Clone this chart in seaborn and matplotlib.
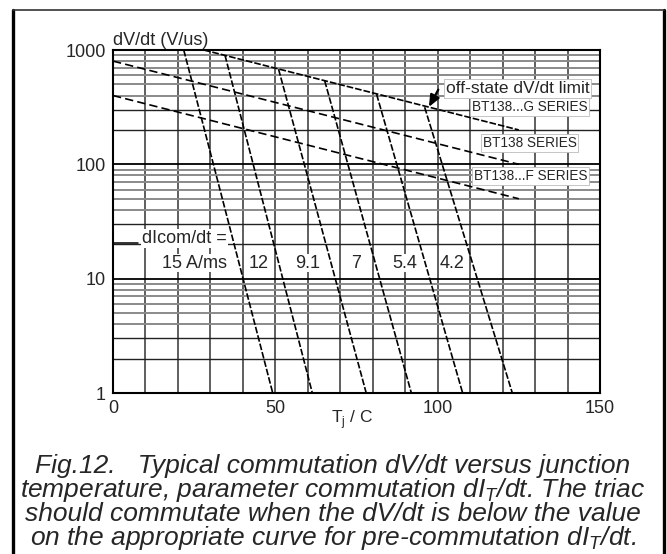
import numpy as np
import pandas as pd
import matplotlib
matplotlib.use('Agg')
import matplotlib.pyplot as plt
import seaborn as sns
from matplotlib.lines import Line2D

# dIcom/dt curves: (Tj, dV/dt) at the top and bottom of each line
dicom_labels = ['15 A/ms', '12', '9.1', '7', '5.4', '4.2']
dicom_t_top = [21.8, 34.5, 51.0, 65.2, 81.2, 96.0]
dicom_v_top = [1000, 900, 680, 540, 410, 316]
dicom_t_bot = [49.2, 61.4, 78.0, 91.9, 107.7, 123.0]
dicom_v_bot = [1, 1, 1, 1, 1, 1]
dicom_label_t = [25.2, 45.0, 59.8, 75.0, 89.8, 104.5]
dicom_label_v = 13.7

# off-state dV/dt limits
series_names = ['BT138...G SERIES', 'BT138 SERIES', 'BT138...F SERIES']
series_t_left = [28, 0, 0]
series_v_left = [1000, 800, 400]
series_t_right = [125, 125, 125]
series_v_right = [200, 100, 50]
series_label_t = [128.3, 128.3, 128.6]
series_label_v = [315, 153, 78.5]

caption = ['Fig.12.   Typical commutation dV/dt versus junction',
           'temperature, parameter commutation dI$_\\mathregular{T}$/dt. The triac',
           'should commutate when the dV/dt is below the value',
           'on the appropriate curve for pre-commutation dI$_\\mathregular{T}$/dt.']

sns.set_style('white')
plt.rcParams['font.family'] = ['Liberation Sans', 'DejaVu Sans']

fig = plt.figure(figsize=(6.67, 5.54), dpi=100)
ax = fig.add_axes([0.1694, 0.2906, 0.7301, 0.6191])
ax.set_yscale('log')
ax.set_xlim(0, 150)
ax.set_ylim(1, 1000)

# grid
for t in range(10, 150, 10):
    ax.axvline(t, color='#333333', lw=1.1, zorder=1)
for dec in [1, 10, 100]:
    for m in range(2, 10):
        if m <= 3:
            ax.axhline(dec * m, color='#222222', lw=1.0, zorder=1)
        else:
            ax.axhline(dec * m, color='#8a8a8a', lw=1.4, zorder=1)
for dec in [10, 100]:
    ax.axhline(dec, color='black', lw=1.3, zorder=1)

# off-state lines
for i, name in enumerate(series_names):
    d = pd.DataFrame({'t': [series_t_left[i], series_t_right[i]],
                      'v': [series_v_left[i], series_v_right[i]]})
    dash = (4, 1.2) if i == 0 else (5, 2.5)
    sns.lineplot(data=d, x='t', y='v', ax=ax, color='black', lw=1.2,
                 zorder=3).lines[-1].set_dashes(dash)
    ax.text(series_label_t[i], series_label_v[i], name, ha='center', va='center',
            fontsize=9.8, zorder=5,
            bbox=dict(boxstyle='square,pad=0.15', fc='white', ec='#bbbbbb', lw=0.6))

# dIcom/dt lines
for i, lab in enumerate(dicom_labels):
    d = pd.DataFrame({'t': [dicom_t_top[i], dicom_t_bot[i]],
                      'v': [dicom_v_top[i], dicom_v_bot[i]]})
    sns.lineplot(data=d, x='t', y='v', ax=ax, color='black', lw=1.2,
                 zorder=3).lines[-1].set_dashes((4, 1.2))
    ax.text(dicom_label_t[i], dicom_label_v, lab, ha='center', va='center',
            fontsize=13, zorder=5,
            bbox=dict(boxstyle='square,pad=0.05', fc='white', ec='none'))

ax.text(9, 22.6, 'dIcom/dt =', ha='left', va='center', fontsize=13, zorder=5,
        bbox=dict(boxstyle='square,pad=0.05', fc='white', ec='none'))
ax.plot([0, 7.6], [20.4, 20.4], color='black', lw=1.1, zorder=5)

ax.text(124.6, 461, 'off-state dV/dt limit', ha='center', va='center',
        fontsize=12.5, zorder=6,
        bbox=dict(boxstyle='square,pad=0.1', fc='white', ec='#bbbbbb', lw=0.6))
ax.annotate('', xy=(97.3, 318), xytext=(100.2, 450), zorder=7,
            arrowprops=dict(arrowstyle='-|>,head_length=0.7,head_width=0.3',
                            color='black', lw=1.6, shrinkA=0, shrinkB=0))

ax.set_xticks([0, 50, 100, 150])
ax.set_xticklabels(['0', '50', '100', '150'])
ax.set_yticks([1, 10, 100, 1000])
ax.set_yticklabels(['1', '10', '100', '1000'])
ax.yaxis.set_minor_locator(matplotlib.ticker.NullLocator())
ax.tick_params(length=0, labelsize=13, pad=5)
ax.set_xlabel('')
ax.set_ylabel('')
for s in ax.spines.values():
    s.set_color('black')
    s.set_linewidth(1.5)
    s.set_zorder(10)

ax.text(0, 1.004, 'dV/dt (V/us)', transform=ax.transAxes, ha='left', va='bottom',
        fontsize=13)
fig.text(352 / 667, 1 - 420 / 554, 'T$_\\mathregular{j}$ / C', ha='center',
         va='center', fontsize=12.5)

for k, line in enumerate(caption):
    fig.text(333 / 667, 1 - (466 + 24 * k) / 554, line, ha='center', va='center',
             fontsize=19, fontstyle='italic')

# frame around the figure
fig.add_artist(Line2D([13 / 667, 13 / 667], [0, 1 - 10 / 554], color='black',
                      lw=2.4, transform=fig.transFigure))
fig.add_artist(Line2D([664 / 667, 664 / 667], [0, 1 - 10 / 554], color='black',
                      lw=2.4, transform=fig.transFigure))
fig.add_artist(Line2D([13 / 667, 664 / 667], [1 - 10 / 554, 1 - 10 / 554],
                      color='#333333', lw=1.2, transform=fig.transFigure))

fig.savefig('out.png', dpi=100)
